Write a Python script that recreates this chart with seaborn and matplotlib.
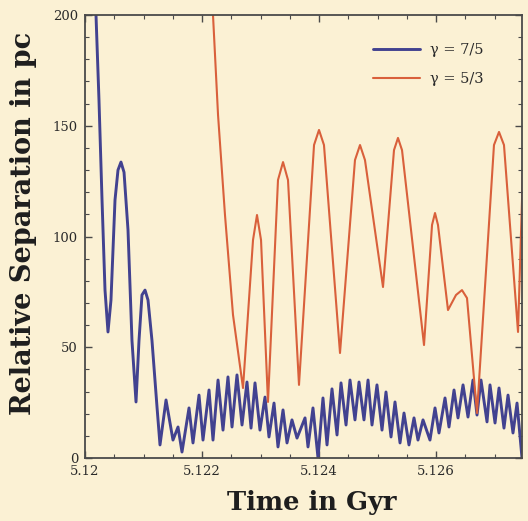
import matplotlib
matplotlib.use("Agg")
import matplotlib.pyplot as plt
import seaborn as sns
import numpy as np
from matplotlib.ticker import MultipleLocator, FuncFormatter

# ---- data ----
t_blue = [5.120120, 5.120188, 5.120239, 5.120291, 5.120342, 5.120393, 5.120444, 5.120513,
          5.120564, 5.120615, 5.120667, 5.120735, 5.120803, 5.120872, 5.120923, 5.120974,
          5.121026, 5.121077, 5.121145, 5.121231, 5.121282, 5.121385, 5.121504, 5.121590,
          5.121658, 5.121778, 5.121846, 5.121949, 5.122017, 5.122120, 5.122188, 5.122274,
          5.122359, 5.122444, 5.122513, 5.122598, 5.122684, 5.122769, 5.122838, 5.122906,
          5.122991, 5.123077, 5.123145, 5.123231, 5.123299, 5.123385, 5.123453, 5.123538,
          5.123624, 5.123761, 5.123812, 5.123897, 5.123983, 5.124068, 5.124137, 5.124222,
          5.124308, 5.124376, 5.124462, 5.124530, 5.124615, 5.124684, 5.124769, 5.124838,
          5.124906, 5.124991, 5.125077, 5.125145, 5.125231, 5.125299, 5.125385, 5.125453,
          5.125538, 5.125624, 5.125692, 5.125778, 5.125897, 5.125983, 5.126051, 5.126154,
          5.126222, 5.126308, 5.126376, 5.126462, 5.126547, 5.126632, 5.126701, 5.126769,
          5.126872, 5.126923, 5.127009, 5.127077, 5.127162, 5.127231, 5.127316, 5.127385,
          5.127470]
sep_blue = [240, 200, 161.6, 116.5, 75.8, 56.9, 71.3, 116.5,
            130.0, 133.6, 129.0, 103.0, 53.0, 25.3, 53.0, 73.6,
            75.8, 71.3, 53.0, 23.0, 5.9, 26.2, 8.1, 14.0,
            2.7, 22.6, 6.8, 28.4, 8.1, 30.7, 8.1, 35.2,
            12.6, 36.6, 14.0, 37.5, 14.9, 34.3, 13.5, 33.9,
            12.6, 27.5, 9.5, 24.8, 5.0, 21.7, 6.8, 17.2,
            9.0, 18.1, 5.0, 22.6, 0.0, 27.1, 5.9, 31.2,
            10.4, 33.9, 14.9, 35.2, 17.2, 34.3, 17.2, 35.2,
            14.9, 33.0, 12.6, 29.8, 9.5, 25.3, 6.8, 20.3,
            5.9, 18.1, 8.1, 17.2, 8.1, 22.6, 11.3, 27.1,
            14.0, 30.7, 18.1, 33.0, 18.5, 35.2, 19.4, 35.2,
            16.3, 33.0, 15.8, 31.6, 13.5, 28.4, 11.3, 24.8,
            0.0]

t_red = [5.122154, 5.122188, 5.122274, 5.122393, 5.122530, 5.122701, 5.122872, 5.122940,
         5.123009, 5.123128, 5.123299, 5.123385, 5.123470, 5.123658, 5.123915, 5.124000,
         5.124085, 5.124359, 5.124615, 5.124701, 5.124786, 5.125094, 5.125282, 5.125350,
         5.125419, 5.125795, 5.125932, 5.125983, 5.126034, 5.126205, 5.126342, 5.126444,
         5.126530, 5.126701, 5.126991, 5.127077, 5.127162, 5.127402, 5.127487]
sep_red = [215, 200, 154.9, 109.7, 64.6, 31.6, 98.4, 109.7,
           98.4, 25.3, 125.5, 133.6, 125.5, 33.0, 141.3, 148.1,
           141.3, 47.4, 134.5, 141.3, 134.5, 77.2, 139.0, 144.5,
           139.0, 51.0, 105.2, 110.6, 105.2, 66.8, 73.6, 75.8,
           72.2, 20.3, 141.3, 147.2, 141.3, 56.9, 131.4]

labels = ["γ = 7/5", "γ = 5/3"]
x_ticks = [5.120, 5.122, 5.124, 5.126]
y_ticks = [0, 50, 100, 150, 200]

# ---- style ----
bg = "#FBF1D4"
sns.set_theme(style="ticks")
plt.rcParams["font.family"] = ["DejaVu Serif", "DejaVu Sans"]

fig = plt.figure(figsize=(5.28, 5.21), dpi=100, facecolor=bg)
ax = fig.add_axes([85 / 528, 63 / 521, 437 / 528, 443 / 521])
ax.set_facecolor(bg)

sns.lineplot(x=t_blue, y=sep_blue, sort=False, estimator=None, color="#424290",
             linewidth=2.1, label=labels[0], ax=ax)
sns.lineplot(x=t_red, y=sep_red, sort=False, estimator=None, color="#D9603B",
             linewidth=1.5, label=labels[1], ax=ax)

ax.set_xlim(5.12, 5.12747)
ax.set_ylim(0, 200)
ax.set_xticks(x_ticks)
ax.set_yticks(y_ticks)
ax.xaxis.set_minor_locator(MultipleLocator(0.0005))
ax.yaxis.set_minor_locator(MultipleLocator(10))
ax.xaxis.set_major_formatter(FuncFormatter(lambda v, p: f"{v:.3f}".rstrip("0")))
ax.yaxis.set_major_formatter(FuncFormatter(lambda v, p: f"{v:.0f}"))

for s in ax.spines.values():
    s.set_color("#4a4a4a")
    s.set_linewidth(1.3)
ax.tick_params(which="both", direction="in", top=True, right=True, color="#4a4a4a",
               labelsize=9.5, labelcolor="#2a2a2a")
ax.tick_params(which="major", length=5, width=1.0, pad=5)
ax.tick_params(which="minor", length=3, width=0.8)

ax.set_xlabel("Time in Gyr", fontsize=18.5, fontweight="bold", color="#1e1e1e")
ax.set_ylabel("Relative Separation in pc", fontsize=19.5, fontweight="bold", color="#1e1e1e")
ax.xaxis.set_label_coords(0.52, -0.072)
ax.yaxis.set_label_coords(-0.11, 0.53)

leg = ax.legend(loc="upper left", bbox_to_anchor=((373 - 85) / 437, (458 - 43) / 443),
                frameon=False, fontsize=10.5, handlelength=3.2, handletextpad=0.7,
                labelspacing=1.05, borderpad=0, borderaxespad=0)
for txt in leg.get_texts():
    txt.set_color("#2a2a2a")

fig.savefig("out.png", dpi=100, facecolor=bg)
